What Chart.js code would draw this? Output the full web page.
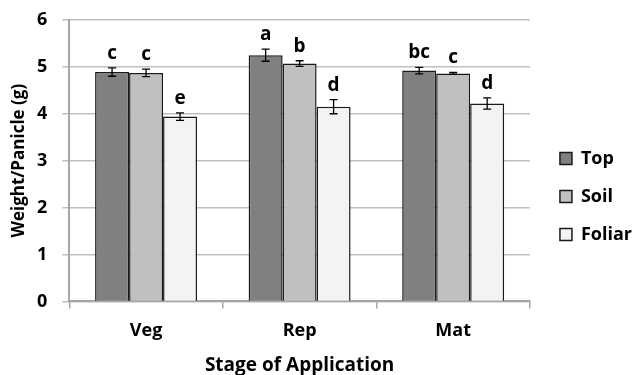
<!DOCTYPE html>
<html>
<head>
<meta charset="utf-8">
<script src="https://cdn.jsdelivr.net/npm/chart.js@4.4.1/dist/chart.umd.min.js"></script>
<style>
  html, body { margin: 0; padding: 0; background: #fff; }
  #wrap { width: 632px; height: 375px; }
</style>
</head>
<body>
<div id="wrap"><canvas id="chart"></canvas></div>
<script>
// 데이터
const stages = ["Veg", "Rep", "Mat"];
const topValues = [4.89, 5.25, 4.92];
const soilValues = [4.87, 5.07, 4.86];
const foliarValues = [3.94, 4.15, 4.22];
const topErrors = [0.09, 0.13, 0.07];
const soilErrors = [0.08, 0.06, 0.02];
const foliarErrors = [0.08, 0.15, 0.12];
const topLetters = ["c", "a", "bc"];
const soilLetters = ["c", "b", "c"];
const foliarLetters = ["e", "d", "d"];
const yTicks = [0, 1, 2, 3, 4, 5, 6];

const FONT = "'Open Sans', sans-serif";

// 오차 막대 + 유의성 문자
const errorBarPlugin = {
  id: "errorBars",
  afterDatasetsDraw(chart) {
    const { ctx } = chart;
    const yScale = chart.scales.y;
    chart.data.datasets.forEach((ds, i) => {
      const meta = chart.getDatasetMeta(i);
      meta.data.forEach((bar, j) => {
        const v = ds.data[j];
        const e = ds.errors[j];
        const yHi = yScale.getPixelForValue(v + e);
        const yLo = yScale.getPixelForValue(v - e);
        ctx.save();
        ctx.strokeStyle = "#000";
        ctx.lineWidth = 1.3;
        ctx.beginPath();
        ctx.moveTo(bar.x, yHi);
        ctx.lineTo(bar.x, yLo);
        ctx.moveTo(bar.x - 4, yHi);
        ctx.lineTo(bar.x + 4, yHi);
        ctx.moveTo(bar.x - 4, yLo);
        ctx.lineTo(bar.x + 4, yLo);
        ctx.stroke();
        ctx.fillStyle = "#000";
        ctx.font = "bold 19px " + FONT;
        ctx.textAlign = "center";
        ctx.textBaseline = "alphabetic";
        ctx.fillText(ds.letters[j], bar.x, yHi - 9);
        ctx.restore();
      });
    });
  }
};

// 범례 위치 미세 조정
const legendShift = {
  id: "legendShift",
  afterLayout(chart) {
    const lg = chart.legend;
    lg.left += 10; lg.right += 10;
    lg.top += 9; lg.bottom += 9;
  }
};

const ctx = document.getElementById("chart").getContext("2d");
new Chart(ctx, {
  type: "bar",
  data: {
    labels: stages,
    datasets: [
      { label: "Top", data: topValues, errors: topErrors, letters: topLetters,
        backgroundColor: "#808080", borderColor: "#1a1a1a", borderWidth: 1.5 },
      { label: "Soil", data: soilValues, errors: soilErrors, letters: soilLetters,
        backgroundColor: "#c0c0c0", borderColor: "#1a1a1a", borderWidth: 1.5 },
      { label: "Foliar", data: foliarValues, errors: foliarErrors, letters: foliarLetters,
        backgroundColor: "#f2f4f2", borderColor: "#1a1a1a", borderWidth: 1.5 }
    ]
  },
  options: {
    responsive: true,
    maintainAspectRatio: false,
    animation: false,
    layout: { padding: { top: 0, left: 11, right: 0, bottom: 0 } },
    datasets: {
      bar: { categoryPercentage: 0.664, barPercentage: 1.0 }
    },
    plugins: {
      legend: {
        position: "right",
        labels: {
          boxWidth: 12,
          boxHeight: 12,
          padding: 20,
          color: "#000",
          font: { family: FONT, size: 18, weight: "bold" }
        }
      },
      tooltip: { enabled: false }
    },
    scales: {
      x: {
        grid: { drawOnChartArea: false, drawTicks: true, tickLength: 7, color: "#a6a6a6", lineWidth: 1.5 },
        border: { color: "#a6a6a6", width: 2 },
        ticks: { color: "#000", padding: 12, font: { family: FONT, size: 18, weight: "bold" } },
        title: { display: true, text: "Stage of Application", color: "#000", padding: { top: 2, bottom: 0 },
                 font: { family: FONT, size: 19, weight: "bold", lineHeight: 1 } }
      },
      y: {
        min: 0,
        max: 6,
        afterBuildTicks(axis) { axis.ticks = yTicks.map(v => ({ value: v })); },
        grid: { color: "#bfbfbf", lineWidth: 1.5, tickLength: 7 },
        border: { color: "#a6a6a6", width: 2 },
        ticks: { color: "#000", padding: 15, font: { family: FONT, size: 18, weight: "bold", lineHeight: 0.55 } },
        title: { display: true, text: "Weight/Panicle (g)", color: "#000", padding: { top: 0, bottom: -6 },
                 font: { family: FONT, size: 17, weight: "bold", lineHeight: 1 } }
      }
    }
  },
  plugins: [errorBarPlugin, legendShift]
});
</script>
</body>
</html>
